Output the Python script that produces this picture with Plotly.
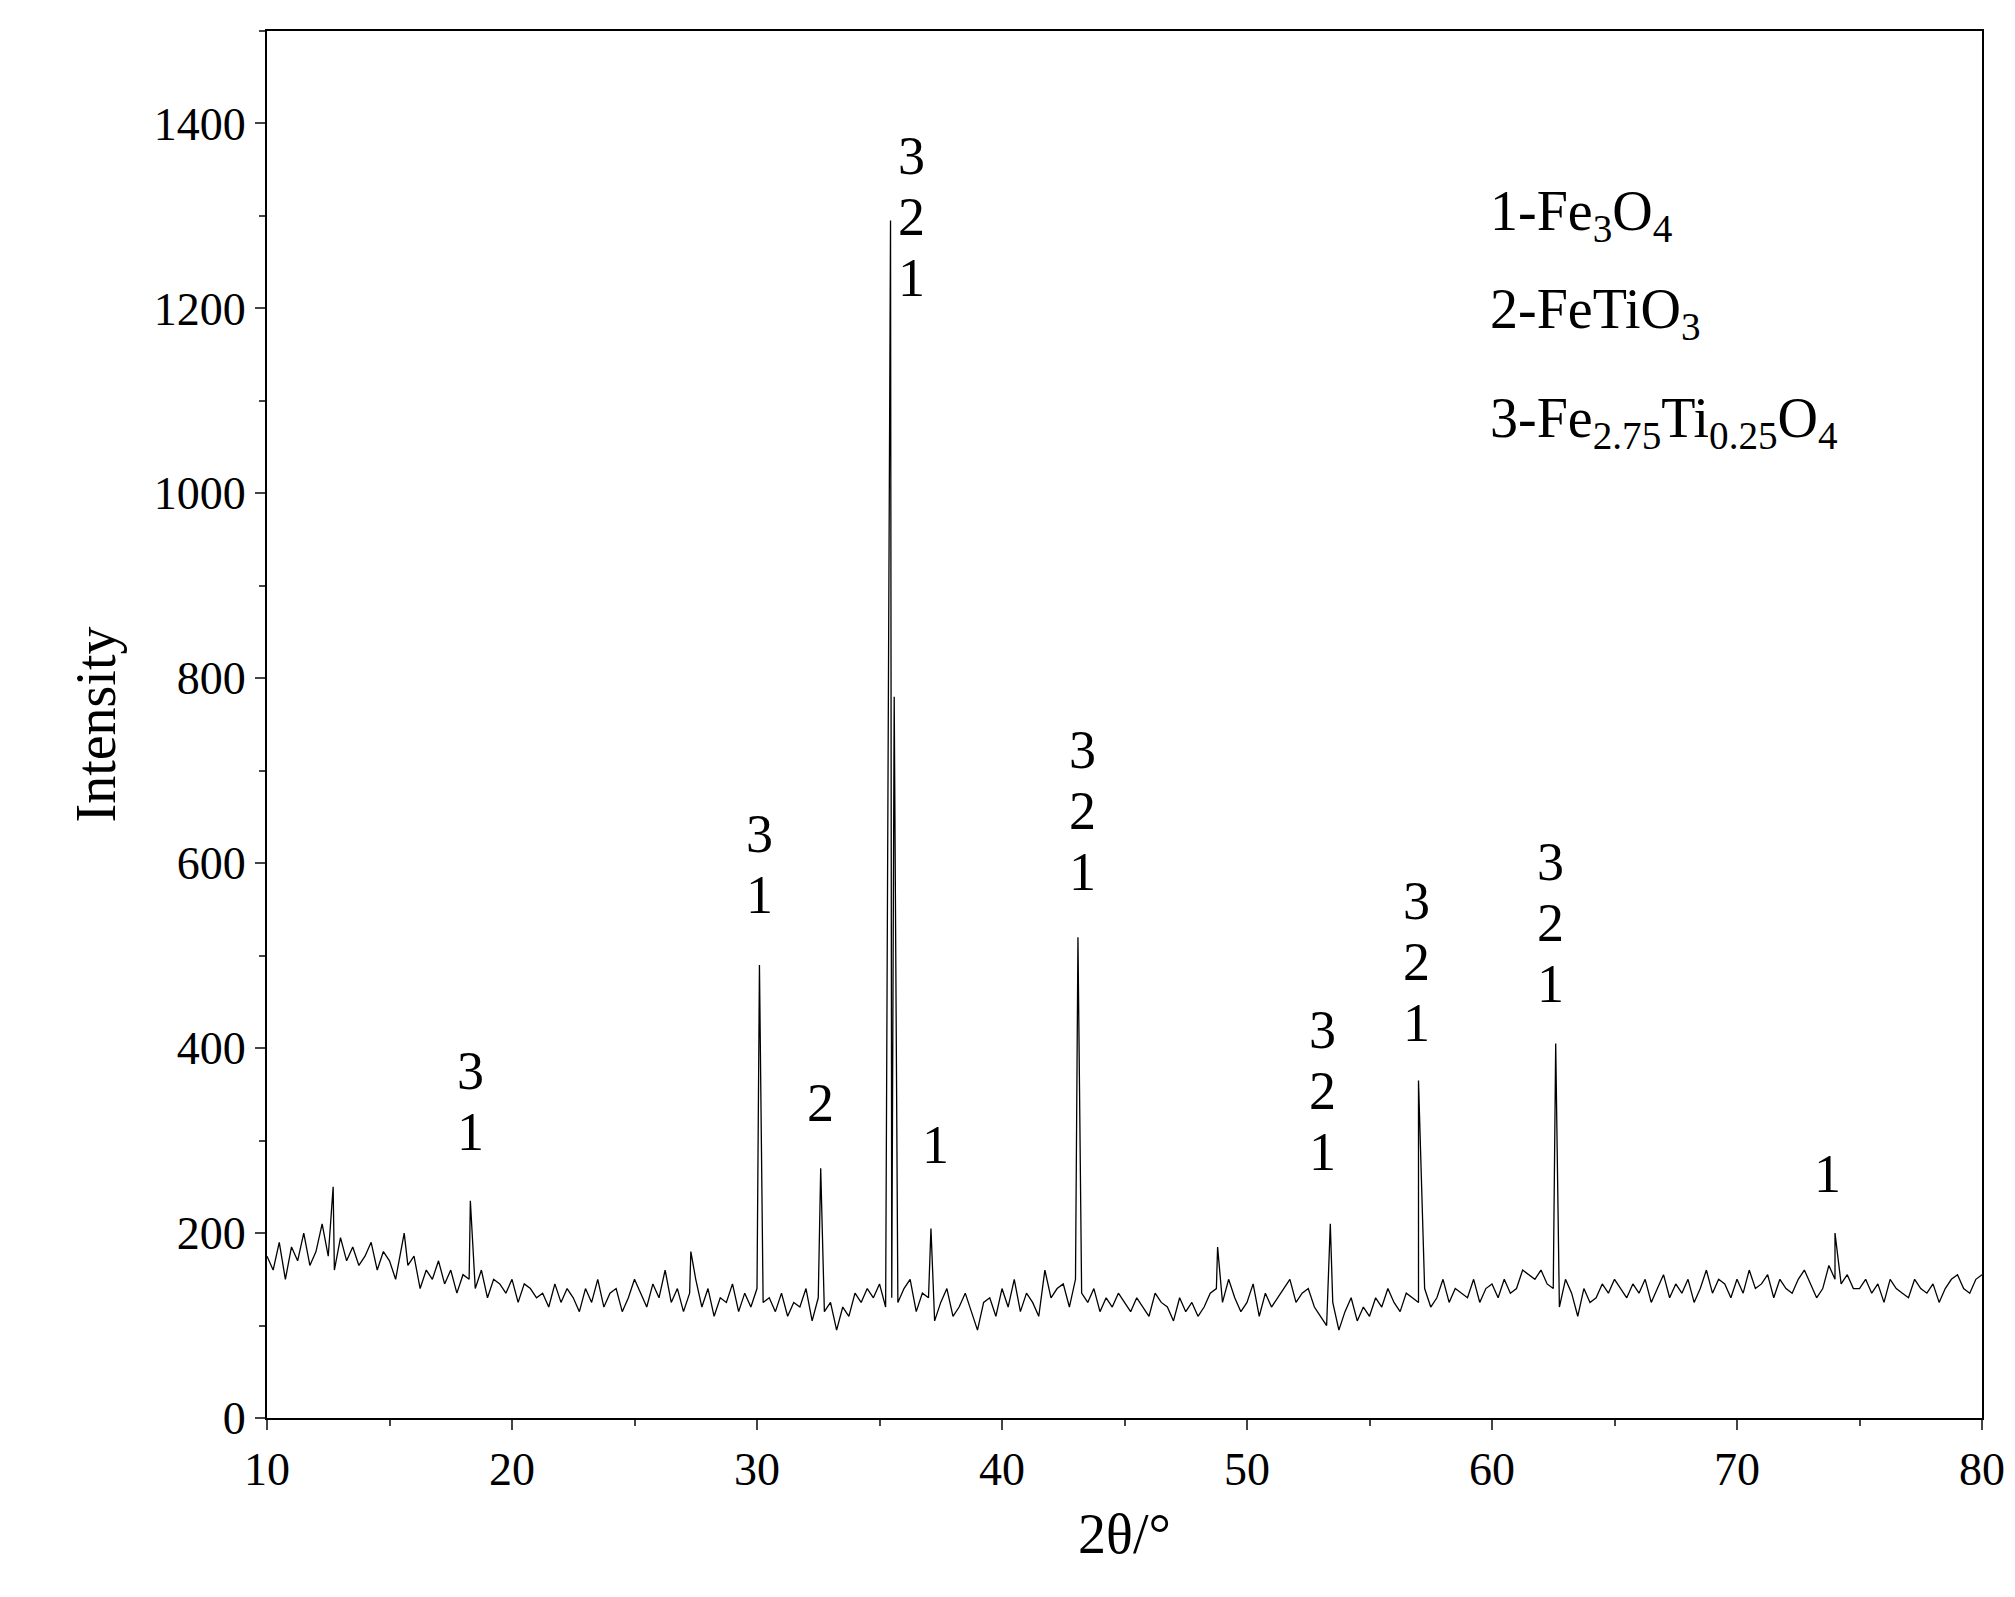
import numpy as np
import plotly.graph_objects as go

bg_y = [175,160,190,150,185,170,200,165,180,210,175,160,195,170,185,165,175,190,160,180,
170,150,185,165,175,140,160,150,170,145,160,135,155,150,140,160,130,150,145,135,
150,125,145,140,130,135,120,145,125,140,130,115,140,125,150,120,135,140,115,130,
150,135,120,145,130,160,125,140,115,135,150,120,140,110,130,125,145,115,135,120,
140,125,130,115,135,110,125,120,140,105,130,115,125,95,120,110,135,125,140,130,
145,120,130,125,140,150,115,135,130,105,125,140,110,120,135,115,95,125,130,110,
140,120,150,115,135,125,110,160,130,140,145,120,150,135,125,140,115,130,120,135,
125,115,130,120,110,135,125,120,105,130,115,125,110,120,135,140,125,150,130,115,
125,145,110,135,120,130,140,150,125,135,140,120,110,100,125,95,115,130,105,120,
110,130,120,140,125,115,135,130,125,140,120,130,150,125,140,135,130,150,125,140,
145,130,150,135,140,160,155,150,160,145,140,120,150,135,110,140,125,130,145,135,
150,140,130,145,135,150,125,140,155,130,145,135,150,125,140,160,135,150,145,130,
150,135,160,140,145,155,130,150,140,135,150,160,145,130,140,165,150,145,155,140,
140,150,135,145,125,150,140,135,130,150,140,135,145,125,140,150,155,140,135,150,155]
bg_x = list(np.round(np.linspace(10, 80, len(bg_y)), 3))

peak_x = [12.7, 15.6, 18.3, 27.3, 30.1, 32.6, 35.45, 35.6, 37.1, 43.1, 48.8, 53.4, 57.0, 62.6, 74.0]
peak_y = [250, 200, 235, 180, 490, 270, 1295, 780, 205, 520, 185, 210, 365, 405, 200]

pts = sorted(list(zip(bg_x, bg_y)) + list(zip(peak_x, peak_y)))
xs = [p[0] for p in pts]
ys = [p[1] for p in pts]

lab_x = [18.3, 30.1, 32.6, 36.3, 37.3, 43.3, 53.1, 56.9, 62.4, 73.7]
lab_y = [275, 531, 306, 1198, 261, 556, 253, 393, 435, 229]
lab_t = ["31", "31", "2", "321", "1", "321", "321", "321", "321", "1"]

legend_t = ["1-Fe<sub>3</sub>O<sub>4</sub>", "2-FeTiO<sub>3</sub>", "3-Fe<sub>2.75</sub>Ti<sub>0.25</sub>O<sub>4</sub>"]
legend_y = [0.867, 0.797, 0.718]

fig = go.Figure(go.Scatter(x=xs, y=ys, mode="lines", line=dict(color="black", width=1.3)))
font = "Liberation Serif"
for x, y, t in zip(lab_x, lab_y, lab_t):
    for i, ch in enumerate(reversed(t)):
        fig.add_annotation(x=x, y=y, text=ch, showarrow=False, yanchor="bottom", xanchor="center",
                           yshift=i * 61, font=dict(family=font, size=54, color="black"))
for y, t in zip(legend_y, legend_t):
    fig.add_annotation(x=0.712, y=y, xref="paper", yref="paper", text=t, showarrow=False,
                       xanchor="left", yanchor="middle", font=dict(family=font, size=56, color="black"))
ax = dict(showline=True, linecolor="black", linewidth=2, mirror=True, ticks="outside",
          ticklen=10, tickwidth=2, showgrid=False, zeroline=False,
          tickfont=dict(family=font, size=46, color="black"))
fig.update_xaxes(range=[10, 80], dtick=10, minor=dict(dtick=5, ticks="outside", ticklen=6, tickwidth=2),
                 title=dict(text="2θ/°", font=dict(family=font, size=56, color="black"), standoff=20), **ax)
fig.update_yaxes(range=[0, 1500], dtick=200, minor=dict(dtick=100, ticks="outside", ticklen=6, tickwidth=2),
                 title=dict(text="Intensity", font=dict(family=font, size=56, color="black"), standoff=20), **ax)
fig.update_layout(width=2015, height=1597, plot_bgcolor="white", paper_bgcolor="white",
                  showlegend=False, margin=dict(l=259, r=41, t=23, b=187))
fig.write_html("out.html")
